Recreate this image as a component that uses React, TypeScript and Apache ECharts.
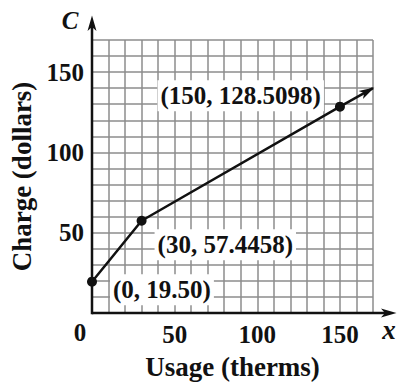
import React, { useEffect, useRef } from "react";
import * as echarts from "echarts";

// ---- data ----
const usage = [0, 30, 150];
const charge = [19.5, 57.4458, 128.5098];
const pointLabels = ["(0, 19.50)", "(30, 57.4458)", "(150, 128.5098)"];
const arrowEnd = [170, 140];
const xTickLabels = [50, 100, 150];
const yTickLabels = [50, 100, 150];
const axisMax = 170;
const gridStep = 10;

const FONT = "'Liberation Serif', 'Times New Roman', serif";
const INK = "#111111";

const labelLayout = [
  { position: "right", distance: 13, offset: [0, 8] },
  { position: "right", distance: 8, offset: [0, 24] },
  { position: "left", distance: 11, offset: [0, -11] },
];

function arrowHead(tip: number[], from: number[], len = 14, half = 4.5) {
  const dx = tip[0] - from[0];
  const dy = tip[1] - from[1];
  const d = Math.hypot(dx, dy) || 1;
  const ux = dx / d;
  const uy = dy / d;
  const nx = -uy;
  const ny = ux;
  const bx = tip[0] - ux * len;
  const by = tip[1] - uy * len;
  const mx = tip[0] - ux * len * 0.72;
  const my = tip[1] - uy * len * 0.72;
  return {
    type: "polygon",
    shape: {
      points: [
        [tip[0] + ux * 1.5, tip[1] + uy * 1.5],
        [bx + nx * half, by + ny * half],
        [mx, my],
        [bx - nx * half, by - ny * half],
      ],
    },
    style: { fill: INK },
    z: 100,
  };
}

export default function App() {
  const ref = useRef<HTMLDivElement>(null);

  useEffect(() => {
    if (!ref.current) return;
    const chart = echarts.init(ref.current, undefined, { renderer: "svg" });

    const axisLabelStyle = {
      color: INK,
      fontFamily: FONT,
      fontWeight: "bold" as const,
      fontSize: 25,
    };
    const nameStyle = {
      color: INK,
      fontFamily: FONT,
      fontWeight: "bold" as const,
      fontSize: 27,
    };
    const splitLine = {
      show: true,
      lineStyle: { color: "#8c8c8c", width: 1.5 },
    };

    const mainData = usage.map((u, i) => ({
      value: [u, charge[i]],
      label: {
        show: true,
        formatter: pointLabels[i],
        position: labelLayout[i].position,
        distance: labelLayout[i].distance,
        offset: labelLayout[i].offset,
        backgroundColor: "#ffffff",
        padding: [3, 3],
        color: INK,
        fontFamily: FONT,
        fontWeight: "bold",
        fontSize: 25,
      },
    }));

    chart.setOption({
      animation: false,
      backgroundColor: "#ffffff",
      grid: { left: 90, right: 25, top: 40, bottom: 63 },
      xAxis: {
        type: "value",
        min: 0,
        max: axisMax,
        interval: gridStep,
        axisLine: { show: false },
        axisTick: { show: false },
        splitLine,
        axisLabel: {
          ...axisLabelStyle,
          margin: 9,
          formatter: (v: number) => (xTickLabels.includes(v) ? String(v) : ""),
        },
        name: "Usage (therms)",
        nameLocation: "middle",
        nameGap: 40,
        nameTextStyle: nameStyle,
      },
      yAxis: {
        type: "value",
        min: 0,
        max: axisMax,
        interval: gridStep,
        axisLine: { show: false },
        axisTick: { show: false },
        splitLine,
        axisLabel: {
          ...axisLabelStyle,
          margin: 8,
          formatter: (v: number) => (yTickLabels.includes(v) ? String(v) : ""),
        },
        name: "Charge (dollars)",
        nameLocation: "middle",
        nameGap: 57,
        nameTextStyle: nameStyle,
      },
      series: [
        {
          type: "line",
          data: [
            [usage[usage.length - 1], charge[charge.length - 1]],
            arrowEnd,
          ],
          showSymbol: false,
          symbol: "none",
          lineStyle: { color: INK, width: 2.5 },
          z: 3,
        },
        {
          type: "line",
          data: mainData,
          symbol: "circle",
          symbolSize: 10,
          itemStyle: { color: INK },
          lineStyle: { color: INK, width: 2.5 },
          z: 4,
        },
      ],
    });

    const o = chart.convertToPixel({ gridIndex: 0 }, [0, 0]) as number[];
    const xe = chart.convertToPixel({ gridIndex: 0 }, [axisMax, 0]) as number[];
    const ye = chart.convertToPixel({ gridIndex: 0 }, [0, axisMax]) as number[];
    const last = chart.convertToPixel({ gridIndex: 0 }, [
      usage[usage.length - 1],
      charge[charge.length - 1],
    ]) as number[];
    const tip = chart.convertToPixel({ gridIndex: 0 }, arrowEnd) as number[];

    const xTip = [xe[0] + 22, o[1]];
    const yTip = [o[0], ye[1] - 23];

    const textStyle = (size: number, italic: boolean) => ({
      fill: INK,
      font: `${italic ? "italic " : ""}bold ${size}px ${FONT}`,
      align: "center",
      verticalAlign: "middle",
    });

    chart.setOption({
      graphic: [
        {
          type: "line",
          shape: { x1: o[0], y1: o[1], x2: xTip[0] - 8, y2: xTip[1] },
          style: { stroke: INK, lineWidth: 2.5 },
          z: 90,
        },
        {
          type: "line",
          shape: { x1: o[0], y1: o[1] + 1.2, x2: yTip[0], y2: yTip[1] + 8 },
          style: { stroke: INK, lineWidth: 2.5 },
          z: 90,
        },
        arrowHead(xTip, o),
        arrowHead(yTip, o),
        arrowHead(tip, last),
        {
          type: "text",
          x: o[0] - 12,
          y: o[1] + 19,
          style: { text: "0", ...textStyle(25, false) },
          z: 100,
        },
        {
          type: "text",
          x: o[0] - 22,
          y: ye[1] - 20,
          style: { text: "C", ...textStyle(25, true) },
          z: 100,
        },
        {
          type: "text",
          x: xe[0] + 16,
          y: o[1] + 17,
          style: { text: "x", ...textStyle(27, true) },
          z: 100,
        },
      ],
    });

    return () => chart.dispose();
  }, []);

  return (
    <div
      ref={ref}
      style={{ position: "fixed", left: 0, top: 0, width: 398, height: 385 }}
    />
  );
}
